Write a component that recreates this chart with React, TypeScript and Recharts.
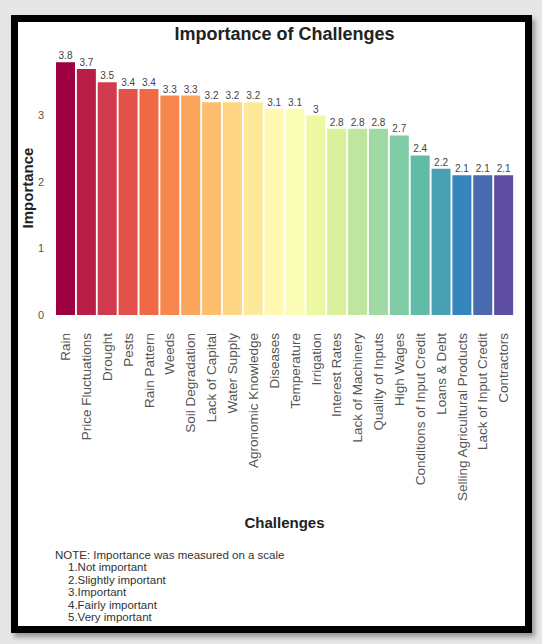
import { Bar, BarChart, Cell, LabelList, XAxis, YAxis } from "recharts";

const challenges = [
  "Rain",
  "Price Fluctuations",
  "Drought",
  "Pests",
  "Rain Pattern",
  "Weeds",
  "Soil Degradation",
  "Lack of Capital",
  "Water Supply",
  "Agronomic Knowledge",
  "Diseases",
  "Temperature",
  "Irrigation",
  "Interest Rates",
  "Lack of Machinery",
  "Quality of Inputs",
  "High Wages",
  "Conditions of Input Credit",
  "Loans & Debt",
  "Selling Agricultural Products",
  "Lack of Input Credit",
  "Contractors",
];

const importance = [
  3.8, 3.7, 3.5, 3.4, 3.4, 3.3, 3.3, 3.2, 3.2, 3.2, 3.1, 3.1, 3, 2.8, 2.8, 2.8, 2.7,
  2.4, 2.2, 2.1, 2.1, 2.1,
];

const yTicks = [0, 1, 2, 3];

const scaleNotes = [
  "1.Not important",
  "2.Slightly important",
  "3.Important",
  "4.Fairly important",
  "5.Very important",
];

const data = challenges.map((name, i) => ({ name, value: importance[i] }));

// Spectral colour stops, sampled evenly across the bars
const spectral = [
  "#9e0142", "#d53e4f", "#f46d43", "#fdae61", "#fee08b", "#ffffbf",
  "#e6f598", "#abdda4", "#66c2a5", "#3288bd", "#5e4fa2",
];

const hexToRgb = (h: string) => [1, 3, 5].map((k) => parseInt(h.slice(k, k + 2), 16));

const spectralAt = (t: number) => {
  const pos = t * (spectral.length - 1);
  const i = Math.min(Math.floor(pos), spectral.length - 2);
  const f = pos - i;
  const a = hexToRgb(spectral[i]);
  const b = hexToRgb(spectral[i + 1]);
  const c = a.map((v, k) => Math.round(v + (b[k] - v) * f));
  return `rgb(${c[0]},${c[1]},${c[2]})`;
};

const barColors = data.map((_, i) => spectralAt(i / (data.length - 1)));

const FONT = "'Liberation Sans', Arial, sans-serif";

const ChallengeTick = (props: any) => {
  const { x, y, payload } = props;
  const ty = y + 18;
  return (
    <text
      x={x}
      y={ty}
      transform={`rotate(-90, ${x}, ${ty})`}
      textAnchor="end"
      dy="0.35em"
      fontSize={13.5}
      fill="#555"
    >
      {payload.value}
    </text>
  );
};

export default function App() {
  return (
    <div
      style={{
        position: "absolute",
        left: 0,
        top: 0,
        width: 542,
        height: 644,
        background: "#e6e6e6",
        fontFamily: FONT,
        overflow: "hidden",
      }}
    >
      <div
        style={{
          position: "absolute",
          left: 11,
          top: 15,
          width: 521,
          height: 618,
          boxSizing: "border-box",
          border: "7px solid #000",
          background: "#fff",
          boxShadow: "3px 4px 5px rgba(0,0,0,0.35)",
        }}
      />
      <div
        style={{
          position: "absolute",
          left: 55,
          width: 459,
          top: 25,
          lineHeight: "18px",
          fontSize: 18,
          fontWeight: "bold",
          color: "#222",
          textAlign: "center",
        }}
      >
        Importance of Challenges
      </div>
      <div style={{ position: "absolute", left: 0, top: 0 }}>
        <BarChart
          width={542}
          height={644}
          data={data}
          margin={{ top: 49, right: 28, bottom: 129, left: 15 }}
          barCategoryGap={1}
        >
          <XAxis
            dataKey="name"
            interval={0}
            axisLine={false}
            tickLine={false}
            tickSize={0}
            tickMargin={0}
            height={200}
            tick={<ChallengeTick />}
          />
          <YAxis
            domain={[0, 4]}
            ticks={yTicks}
            width={40}
            axisLine={false}
            tickLine={false}
            tickSize={0}
            tickMargin={11}
            tick={{ fontSize: 11, fill: "#555" }}
          />
          <Bar dataKey="value" isAnimationActive={false}>
            {data.map((d, i) => (
              <Cell key={d.name} fill={barColors[i]} />
            ))}
            <LabelList dataKey="value" position="top" offset={3} fontSize={10} fill="#444" />
          </Bar>
        </BarChart>
      </div>
      <div
        style={{
          position: "absolute",
          left: 27,
          top: 188,
          transform: "translate(-50%, -50%) rotate(-90deg)",
          fontSize: 15,
          fontWeight: "bold",
          color: "#222",
          whiteSpace: "nowrap",
        }}
      >
        Importance
      </div>
      <div
        style={{
          position: "absolute",
          left: 55,
          width: 459,
          top: 514,
          lineHeight: "18px",
          fontSize: 15,
          fontWeight: "bold",
          color: "#222",
          textAlign: "center",
        }}
      >
        Challenges
      </div>
      <div
        style={{
          position: "absolute",
          left: 55,
          top: 549,
          fontSize: 11.5,
          lineHeight: "12.4px",
          color: "#333",
          whiteSpace: "nowrap",
        }}
      >
        <div>NOTE: Importance was measured on a scale</div>
        {scaleNotes.map((n) => (
          <div key={n} style={{ paddingLeft: 13 }}>
            {n}
          </div>
        ))}
      </div>
    </div>
  );
}
